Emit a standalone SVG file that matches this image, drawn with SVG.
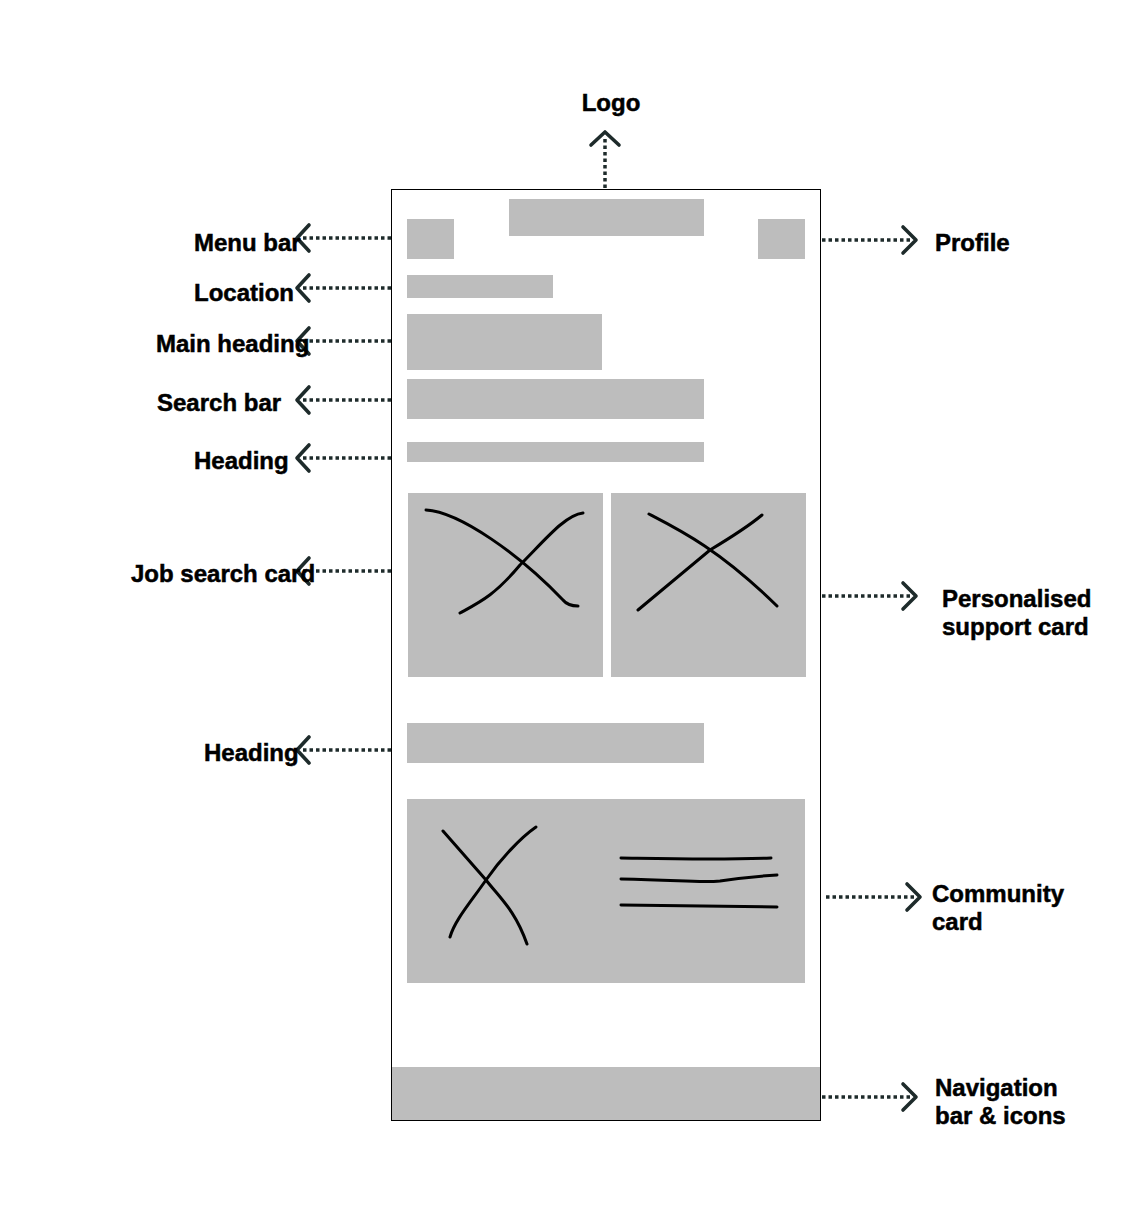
<svg xmlns="http://www.w3.org/2000/svg" width="1139" height="1221" viewBox="0 0 1139 1221">
<style>
.blk{fill:#bdbdbd}
.lbl{font-family:"Liberation Sans",Arial,sans-serif;font-weight:bold;font-size:24px;fill:#000;stroke:#000;stroke-width:0.5}
.dot{stroke:#1e2b2b;stroke-width:3.5;stroke-dasharray:3.5 3;fill:none}
.chev{stroke:#1e2b2b;stroke-width:3.6;fill:none;stroke-linecap:round;stroke-linejoin:round}
.sk{stroke:#000;stroke-width:3;fill:none;stroke-linecap:round}
</style>
<rect width="1139" height="1221" fill="#fff"/>
<g id="phone">
<rect x="391.5" y="189.5" width="429" height="931" fill="#fff" stroke="#000" stroke-width="1"/>
</g>
<g id="logo-block"><rect class="blk" x="509" y="199" width="195" height="37"/></g>
<g id="menu-block"><rect class="blk" x="407" y="219" width="47" height="40"/></g>
<g id="profile-block"><rect class="blk" x="758" y="219" width="47" height="40"/></g>
<g id="location-block"><rect class="blk" x="407" y="275" width="146" height="23"/></g>
<g id="main-heading-block"><rect class="blk" x="407" y="314" width="195" height="56"/></g>
<g id="search-block"><rect class="blk" x="407" y="379" width="297" height="40"/></g>
<g id="heading-block"><rect class="blk" x="407" y="442" width="297" height="20"/></g>
<g id="job-card">
<rect class="blk" x="408" y="493" width="195" height="184"/>
<path class="sk" d="M426,510 C460,512 520,555 563,600 C567,605 572,606 578,606"/>
<path class="sk" d="M460,613 C480,602 495,595 520,565 C545,540 565,515 583,513"/>
</g>
<g id="support-card">
<rect class="blk" x="611" y="493" width="195" height="184"/>
<path class="sk" d="M649,514 C680,530 720,550 777,606"/>
<path class="sk" d="M638,610 L710,550 C730,538 750,525 762,515"/>
</g>
<g id="heading2-block"><rect class="blk" x="407" y="723" width="297" height="40"/></g>
<g id="community-card">
<rect class="blk" x="407" y="799" width="398" height="184"/>
<path class="sk" d="M443,831 L486,880 C500,898 515,910 527,944"/>
<path class="sk" d="M536,827 C520,838 500,860 486,880 C470,903 455,920 450,937"/>
<path class="sk" d="M621,858 C680,859 720,860 771,858"/>
<path class="sk" d="M621,879 C680,880 700,883 720,881 C740,878 760,876 777,875"/>
<path class="sk" d="M621,905 L777,907"/>
</g>
<g id="nav-bar"><rect class="blk" x="392" y="1067" width="428" height="53"/></g>
<g id="connectors">
<line class="dot" x1="605" y1="188" x2="605" y2="137"/>
<polyline class="chev" points="591,145 605,132 619,145"/>
<line class="dot" x1="391" y1="238" x2="302" y2="238"/>
<polyline class="chev" points="309,225 297,238 309,251"/>
<line class="dot" x1="391" y1="288" x2="302" y2="288"/>
<polyline class="chev" points="309,275 297,288 309,301"/>
<line class="dot" x1="391" y1="341" x2="302" y2="341"/>
<polyline class="chev" points="309,328 297,341 309,354"/>
<line class="dot" x1="391" y1="400" x2="302" y2="400"/>
<polyline class="chev" points="309,387 297,400 309,413"/>
<line class="dot" x1="391" y1="458" x2="302" y2="458"/>
<polyline class="chev" points="309,445 297,458 309,471"/>
<line class="dot" x1="391" y1="571" x2="302" y2="571"/>
<polyline class="chev" points="309,558 297,571 309,584"/>
<line class="dot" x1="391" y1="750" x2="302" y2="750"/>
<polyline class="chev" points="309,737 297,750 309,763"/>
<line class="dot" x1="822" y1="240" x2="911" y2="240"/>
<polyline class="chev" points="903,227 916,240 903,253"/>
<line class="dot" x1="822" y1="596" x2="911" y2="596"/>
<polyline class="chev" points="903,583 916,596 903,609"/>
<line class="dot" x1="826" y1="897" x2="915" y2="897"/>
<polyline class="chev" points="907,884 920,897 907,910"/>
<line class="dot" x1="822" y1="1097" x2="911" y2="1097"/>
<polyline class="chev" points="903,1084 916,1097 903,1110"/>
</g>
<g id="labels">
<text class="lbl" x="611" y="111" text-anchor="middle">Logo</text>
<text class="lbl" x="194" y="251">Menu bar</text>
<text class="lbl" x="194" y="301">Location</text>
<text class="lbl" x="156" y="352">Main heading</text>
<text class="lbl" x="157" y="411">Search bar</text>
<text class="lbl" x="194" y="469">Heading</text>
<text class="lbl" x="131" y="582">Job search card</text>
<text class="lbl" x="204" y="761">Heading</text>
<text class="lbl" x="935" y="251">Profile</text>
<text class="lbl" x="942" y="607">Personalised</text>
<text class="lbl" x="942" y="635">support card</text>
<text class="lbl" x="932" y="902">Community</text>
<text class="lbl" x="932" y="930">card</text>
<text class="lbl" x="935" y="1096">Navigation</text>
<text class="lbl" x="935" y="1124">bar &amp; icons</text>
</g>
</svg>
